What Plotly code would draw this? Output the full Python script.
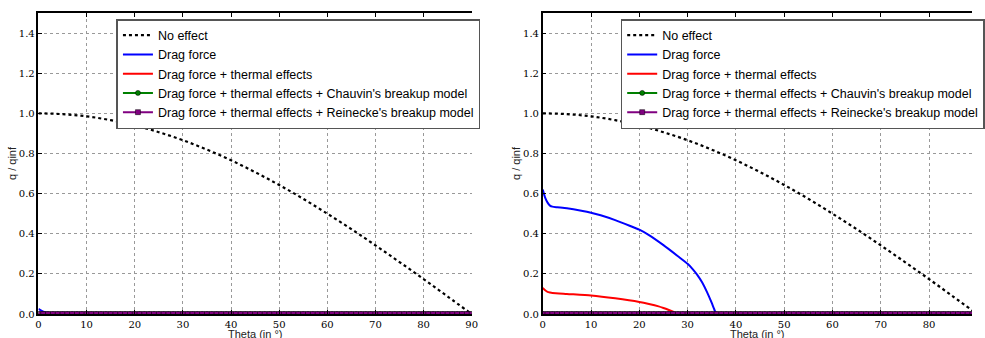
import plotly.graph_objects as go

theta_noeffect = [0, 5, 10, 15, 20, 25, 30, 35, 40, 45, 50, 55, 60, 65, 70, 75, 80, 85, 90]
q_noeffect = [1.0, 0.996, 0.985, 0.966, 0.94, 0.906, 0.866, 0.819, 0.766, 0.707,
              0.643, 0.574, 0.5, 0.423, 0.342, 0.259, 0.174, 0.087, 0.0]

# left panel
theta_drag_l = [0, 0.5, 1, 1.5, 2, 3, 4, 5, 90]
q_drag_l = [0.025, 0.018, 0.012, 0.008, 0.005, 0.002, 0.001, 0.0, 0.0]
theta_thermal_l = [0, 90]
q_thermal_l = [0.0, 0.0]

# right panel
theta_drag_r = [0, 0.5, 1, 1.5, 2, 3, 5, 8, 10, 12, 15, 18, 20, 22, 25, 28, 30,
                31, 32, 33, 34, 35, 35.5, 36, 90]
q_drag_r = [0.62, 0.58, 0.555, 0.54, 0.535, 0.532, 0.527, 0.515, 0.505, 0.492, 0.468,
            0.44, 0.42, 0.393, 0.343, 0.288, 0.25, 0.225, 0.195, 0.158, 0.11, 0.055,
            0.025, 0.0, 0.0]
theta_thermal_r = [0, 0.5, 1, 1.5, 2, 5, 10, 15, 20, 22, 24, 25, 26, 27, 28, 90]
q_thermal_r = [0.13, 0.118, 0.11, 0.107, 0.105, 0.1, 0.092, 0.078, 0.06, 0.05,
               0.038, 0.03, 0.021, 0.011, 0.0, 0.0]

# breakup models: zero everywhere
theta_breakup = list(range(91))
q_chauvin = [0.0] * 91
q_reinecke = [0.0] * 91

names = ["No effect", "Drag force", "Drag force + thermal effects",
         "Drag force + thermal effects + Chauvin's breakup model",
         "Drag force + thermal effects + Reinecke's breakup model"]

W, H = 985, 338
fig = go.Figure()


def add_panel(fig, xa, ya, legend, drag, thermal):
    fig.add_trace(go.Scatter(x=theta_noeffect, y=q_noeffect, mode="lines", name=names[0],
                             line=dict(color="black", width=2.2, dash="3px,3px", shape="spline"),
                             xaxis=xa, yaxis=ya, legend=legend))
    fig.add_trace(go.Scatter(x=drag[0], y=drag[1], mode="lines", name=names[1],
                             line=dict(color="#0000ff", width=2, shape="spline", smoothing=0.6),
                             xaxis=xa, yaxis=ya, legend=legend))
    fig.add_trace(go.Scatter(x=thermal[0], y=thermal[1], mode="lines", name=names[2],
                             line=dict(color="#ff0000", width=2, shape="spline", smoothing=0.6),
                             xaxis=xa, yaxis=ya, legend=legend))
    fig.add_trace(go.Scatter(x=theta_breakup, y=q_chauvin, mode="lines+markers", name=names[3],
                             line=dict(color="#008000", width=2),
                             marker=dict(symbol="circle", size=5, color="#008000",
                                         line=dict(color="black", width=0.5)),
                             xaxis=xa, yaxis=ya, legend=legend))
    fig.add_trace(go.Scatter(x=theta_breakup, y=q_reinecke, mode="lines+markers", name=names[4],
                             line=dict(color="#800080", width=2),
                             marker=dict(symbol="square", size=5, color="#800080",
                                         line=dict(color="black", width=0.5)),
                             xaxis=xa, yaxis=ya, legend=legend))


add_panel(fig, "x", "y", "legend", (theta_drag_l, q_drag_l), (theta_thermal_l, q_thermal_l))
add_panel(fig, "x2", "y2", "legend2", (theta_drag_r, q_drag_r), (theta_thermal_r, q_thermal_r))

tickfont = dict(family="DejaVu Serif", size=10, color="#000")
titlefont = dict(family="Liberation Sans, Arial", size=11, color="#222")
xcommon = dict(tickmode="array", tickvals=list(range(0, 100, 10)), tickfont=tickfont,
               showgrid=True, gridcolor="#999", griddash="dot", gridwidth=1,
               showline=True, linecolor="black", linewidth=1.5, mirror="ticks",
               ticks="inside", ticklen=4, tickcolor="black", zeroline=False,
               automargin=False)
ycommon = dict(range=[0, 1.5], tickvals=[0, 0.2, 0.4, 0.6, 0.8, 1.0, 1.2, 1.4],
               ticktext=["0.0", "0.2", "0.4", "0.6", "0.8", "1.0", "1.2", "1.4"],
               tickfont=tickfont, showgrid=True, gridcolor="#999", griddash="dot",
               showline=True, linecolor="black", linewidth=1.5, ticks="inside",
               ticklen=4, tickcolor="black", zeroline=False, automargin=False,
               title=dict(text="q / qinf", font=titlefont, standoff=0))

legcommon = dict(xanchor="left", yanchor="top", bgcolor="white",
                 bordercolor="#555", borderwidth=1.5,
                 font=dict(family="Liberation Sans, Arial", size=12.5, color="black"),
                 tracegroupgap=0, itemwidth=30)

fig.update_layout(
    width=W, height=H,
    margin=dict(l=0, r=0, t=13, b=24),
    plot_bgcolor="white", paper_bgcolor="white",
    showlegend=True,
    xaxis=dict(domain=[39 / W, 478 / W], range=[0, 90], anchor="y", **xcommon),
    yaxis=dict(domain=[0, 1], anchor="x", **ycommon),
    xaxis2=dict(domain=[550 / W, 1.0], range=[0, 88.9], anchor="y2", **xcommon),
    yaxis2=dict(domain=[0, 1], anchor="x2", **ycommon),
    legend=dict(x=118 / W, y=0.98, **legcommon),
    legend2=dict(x=629 / W, y=0.98, **legcommon),
)

# x axis titles, sitting low and partly cut like the original
for xc in [(39 + 478) / 2 / W, (550 + 985) / 2 / W]:
    fig.add_annotation(text="Theta (in °)", xref="paper", yref="paper",
                       x=xc, y=-0.066, xanchor="center", yanchor="middle",
                       showarrow=False, font=titlefont)

# the page's default body margin would push the figure off by 8px
fig.write_html("out.html", config={"displayModeBar": False},
               post_script="document.body.style.margin='0';")
